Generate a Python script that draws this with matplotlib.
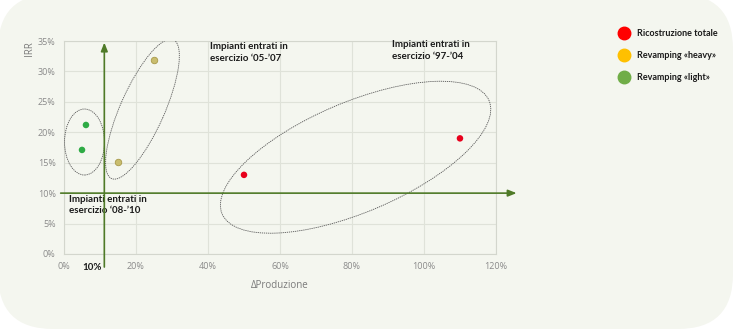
import numpy as np
import matplotlib.pyplot as plt
from matplotlib.patches import Ellipse, FancyBboxPatch
from matplotlib.transforms import ScaledTranslation
from matplotlib.ticker import PercentFormatter

# data (fractions)
green_x = [0.05, 0.061]
green_y = [0.171, 0.212]
heavy_x = [0.15, 0.25]
heavy_y = [0.151, 0.319]
red_x = [0.50, 1.10]
red_y = [0.130, 0.190]

legend_labels = ["Ricostruzione totale", "Revamping «heavy»", "Revamping «light»"]
legend_colors = ["#ff0000", "#ffc000", "#70ad47"]

x_ticks = [0, 0.2, 0.4, 0.6, 0.8, 1.0, 1.2]
y_ticks = [0, 0.05, 0.10, 0.15, 0.20, 0.25, 0.30, 0.35]

# group ellipses: center (data), full axes (inches), angle (deg)
groups = [
    ((0.057, 0.184), 0.40, 0.66, 0),
    ((0.218, 0.238), 1.52, 0.44, 66),
    ((0.81, 0.159), 2.90, 1.10, 23),
]

plt.rcParams["font.family"] = ["Open Sans", "DejaVu Sans"]
bold_font = ["Lato", "DejaVu Sans"]

fig = plt.figure(figsize=(7.34, 3.32), dpi=100)
fig.patch.set_facecolor("white")
card = FancyBboxPatch((-0.02, 0.03), 7.35, 3.35, boxstyle="round,pad=0,rounding_size=0.55",
                      transform=fig.dpi_scale_trans, facecolor="#f4f6ef", edgecolor="none", zorder=-10)
fig.patches.append(card)

ax = fig.add_axes([0.0872, 0.235, 0.5885, 0.6415])
ax.set_facecolor("#f4f6ef")
ax.set_xlim(0, 1.2)
ax.set_ylim(0, 0.35)
ax.set_xticks(x_ticks)
ax.set_yticks(y_ticks)
ax.xaxis.set_major_formatter(PercentFormatter(1.0, decimals=0))
ax.yaxis.set_major_formatter(PercentFormatter(1.0, decimals=0))
ax.tick_params(length=0, labelsize=6.5, colors="#8a8a8a", pad=6)
ax.grid(True, color="#dfe2d9", linewidth=0.8)
ax.set_axisbelow(True)
for s in ax.spines.values():
    s.set_color("#d3d6cd")
    s.set_linewidth(0.8)
ax.set_xlabel("ΔProduzione", fontsize=7, color="#7a7a7a", labelpad=6)
ax.set_ylabel("IRR", fontsize=7, color="#7a7a7a", loc="top", labelpad=2)

ax.scatter(green_x, green_y, s=22, color="#2eab45", zorder=5, edgecolors="none")
ax.scatter(heavy_x, heavy_y, s=22, color="#c9bd6e", edgecolors="#a8994a", linewidths=0.6, zorder=5)
ax.scatter(red_x, red_y, s=22, color="#e8001c", zorder=5, edgecolors="none")

for (cx, cy), w, h, ang in groups:
    tr = fig.dpi_scale_trans + ScaledTranslation(cx, cy, ax.transData)
    ax.add_patch(Ellipse((0, 0), w, h, angle=ang, transform=tr, fill=False,
                         edgecolor="#555555", linewidth=0.6, linestyle=(0, (1.5, 1)), zorder=4))

# threshold arrows (drawn where the original places them)
arrow_kw = dict(arrowstyle="-|>,head_length=0.5,head_width=0.2", color="#4f7a28", lw=1.2)
ax.annotate("", xy=(0.112, 0.352), xytext=(0.112, -0.026), xycoords="data",
            arrowprops=arrow_kw, annotation_clip=False, zorder=6)
ax.annotate("", xy=(1.265, 0.10), xytext=(-0.017, 0.10), xycoords="data",
            arrowprops=arrow_kw, annotation_clip=False, zorder=6)

txt_kw = dict(fontsize=7, fontweight="bold", color="#1a1a1a", va="top", ha="left",
              linespacing=1.35, family=bold_font)
ax.text(0.013, 0.097, "Impianti entrati in\nesercizio ‘08-’10", **txt_kw)
ax.text(0.405, 0.348, "Impianti entrati in\nesercizio ‘05-’07", **txt_kw)
ax.text(0.91, 0.351, "Impianti entrati in\nesercizio ‘97-’04", **txt_kw)
ax.text(0.105, -0.023, "10%", fontsize=7, fontweight="bold", color="#1a1a1a", ha="right",
        va="center", clip_on=False, family=bold_font)

# legend
for i, (lab, col) in enumerate(zip(legend_labels, legend_colors)):
    y = 0.900 - i * 0.066
    fig.add_artist(plt.Line2D([0.850], [y], marker="o", markersize=9, color=col, linestyle="none"))
    fig.text(0.868, y, lab, fontsize=6.5, fontweight="bold", color="#1a1a1a", va="center", ha="left",
             family=bold_font)

fig.savefig("out.png", dpi=100)
